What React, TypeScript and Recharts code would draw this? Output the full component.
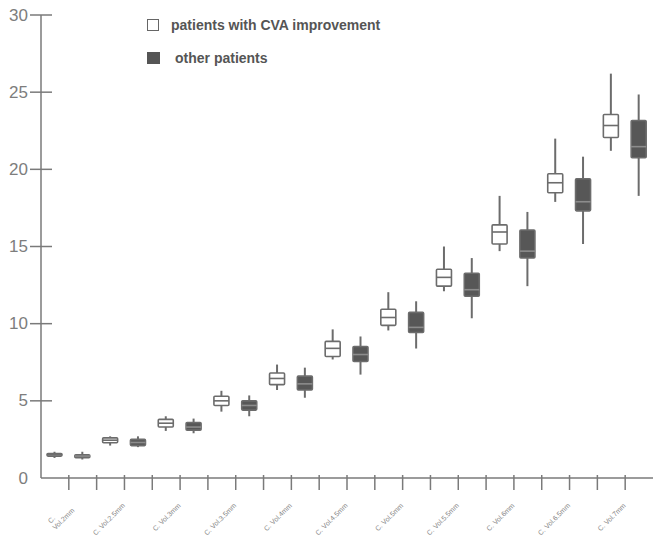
import React from 'react';
import { ComposedChart, Bar, XAxis, YAxis } from 'recharts';

const categories = [
  'C. Vol.2mm', 'C. Vol.2.5mm', 'C. Vol.3mm', 'C. Vol.3.5mm', 'C. Vol.4mm', 'C. Vol.4.5mm',
  'C. Vol.5mm', 'C. Vol.5.5mm', 'C. Vol.6mm', 'C. Vol.6.5mm', 'C. Vol.7mm',
];

// patients with CVA improvement
const improvedMin = [1.3, 2.1, 3.05, 4.3, 5.7, 7.68, 9.56, 12.1, 14.7, 17.89, 21.2];
const improvedQ1 = [1.42, 2.28, 3.3, 4.7, 6.05, 7.87, 9.89, 12.43, 15.16, 18.48, 22.06];
const improvedMedian = [1.5, 2.45, 3.55, 5.0, 6.45, 8.4, 10.4, 13.0, 15.94, 19.13, 22.84];
const improvedQ3 = [1.58, 2.6, 3.8, 5.3, 6.8, 8.85, 10.93, 13.53, 16.4, 19.71, 23.55];
const improvedMax = [1.7, 2.7, 4.0, 5.65, 7.35, 9.63, 12.04, 15.0, 18.28, 21.99, 26.2];

// other patients
const otherMin = [1.2, 2.0, 2.9, 4.0, 5.2, 6.7, 8.39, 10.35, 12.43, 15.16, 18.28];
const otherQ1 = [1.32, 2.1, 3.1, 4.4, 5.7, 7.55, 9.43, 11.78, 14.25, 17.31, 20.75];
const otherMedian = [1.42, 2.3, 3.3, 4.7, 6.1, 8.0, 9.76, 12.2, 14.7, 17.9, 21.47];
const otherQ3 = [1.5, 2.5, 3.6, 5.0, 6.6, 8.52, 10.73, 13.27, 16.07, 19.39, 23.16];
const otherMax = [1.7, 2.7, 3.85, 5.35, 7.15, 9.17, 11.45, 14.25, 17.24, 20.82, 24.85];

const yTicks = [0, 5, 10, 15, 20, 25, 30];
const slotTicks = [1, 2, 3, 4, 5, 6, 7, 8, 9, 10, 11, 12, 13, 14, 15, 16, 17, 18, 19, 20, 21];

const data = categories.flatMap((c, i) => [
  {
    slot: `${c}-a`, group: 'improved', pos: i * 2 + 0.5,
    min: improvedMin[i], q1: improvedQ1[i], median: improvedMedian[i], q3: improvedQ3[i], max: improvedMax[i],
  },
  {
    slot: `${c}-b`, group: 'other', pos: i * 2 + 1.5,
    min: otherMin[i], q1: otherQ1[i], median: otherMedian[i], q3: otherQ3[i], max: otherMax[i],
  },
]);

const AXIS = '#7a7a7a';
const FONT = '"Liberation Sans", Arial, sans-serif';

const BoxShape = (props: any) => {
  const { x, y, width, height, payload } = props;
  if (payload == null || !height) return null;
  const { min, q1, median, q3, max, group } = payload;
  const py = (v: number) => y + ((max - v) / (max - min)) * height;
  const cx = x + width / 2;
  const dark = group === 'other';
  const top = py(q3);
  const bottom = py(q1);
  return (
    <g>
      <line x1={cx} x2={cx} y1={py(max)} y2={top} stroke="#6c6c6c" strokeWidth={2} />
      <line x1={cx} x2={cx} y1={bottom} y2={py(min)} stroke="#6c6c6c" strokeWidth={2} />
      <rect x={x} y={top} width={width} height={bottom - top} fill={dark ? '#575757' : '#ffffff'}
        stroke="#6c6c6c" strokeWidth={1.6} rx={1} />
      <line x1={x} x2={x + width} y1={py(median)} y2={py(median)}
        stroke={dark ? '#8c8c8c' : '#6c6c6c'} strokeWidth={1.6} />
    </g>
  );
};

const YTick = (props: any) => {
  const { x, y, payload } = props;
  return (
    <g>
      {payload.value !== 0 && <line x1={x - 11} x2={x + 11} y1={y} y2={y} stroke={AXIS} strokeWidth={1.5} />}
      <text x={x - 13} y={y} textAnchor="end" dominantBaseline="central" fill="#7d7d7d"
        fontSize={17} fontFamily={FONT}>{payload.value}</text>
    </g>
  );
};

const XTick = (props: any) => {
  const { x, y, payload } = props;
  const v = payload.value as number;
  const label = v % 2 === 1 ? categories[(v - 1) / 2] : null;
  const ex = x + 1;
  const ey = y + 28;
  return (
    <g>
      <line x1={x} x2={x} y1={y - 3} y2={y + 12} stroke={AXIS} strokeWidth={1.5} />
      {label && (
        <g transform={`translate(${ex},${ey}) rotate(-45)`}>
          {v === 1 ? (
            <>
              <text x={0} y={7} textAnchor="end" fill="#858585" fontSize={7} fontFamily={FONT}>Vol.2mm</text>
              <text x={-26} y={-1} textAnchor="start" fill="#858585" fontSize={7} fontFamily={FONT}>C.</text>
            </>
          ) : (
            <text x={0} y={0} textAnchor="end" fill="#858585" fontSize={7} fontFamily={FONT}>{label}</text>
          )}
        </g>
      )}
    </g>
  );
};

export default function App() {
  return (
    <div style={{ position: 'absolute', left: 0, top: 0, width: 654, height: 539, background: '#fff' }}>
      <ComposedChart width={654} height={539} data={data} margin={{ top: 15, right: 1, bottom: 0, left: 0 }}
        barCategoryGap={0}>
        <XAxis xAxisId="cat" dataKey="slot" type="category" hide height={0} />
        <XAxis xAxisId="grid" dataKey="pos" type="number" domain={[0, 22]} ticks={slotTicks}
          height={61} tickLine={false} tickSize={0} tickMargin={0} interval={0}
          axisLine={{ stroke: AXIS, strokeWidth: 1.5 }} tick={<XTick />} allowDataOverflow />
        <YAxis type="number" domain={[0, 30]} ticks={yTicks} width={41} interval={0}
          tickLine={false} tickSize={0} tickMargin={0}
          axisLine={{ stroke: AXIS, strokeWidth: 1.5 }} tick={<YTick />} />
        <Bar xAxisId="cat" dataKey={(d: any) => [d.min, d.max]} barSize={15}
          shape={<BoxShape />} isAnimationActive={false} />
      </ComposedChart>
      <div style={{ position: 'absolute', left: 147, top: 18, fontFamily: FONT, fontWeight: 'bold',
        fontSize: 14, color: '#555' }}>
        <div style={{ display: 'flex', alignItems: 'center', height: 14 }}>
          <span style={{ display: 'inline-block', width: 10, height: 10, border: '1.5px solid #666',
            background: '#fff', marginRight: 12 }} />
          <span>patients with CVA improvement</span>
        </div>
        <div style={{ display: 'flex', alignItems: 'center', height: 14, marginTop: 19 }}>
          <span style={{ display: 'inline-block', width: 13, height: 12, background: '#555',
            marginRight: 15 }} />
          <span>other patients</span>
        </div>
      </div>
    </div>
  );
}
